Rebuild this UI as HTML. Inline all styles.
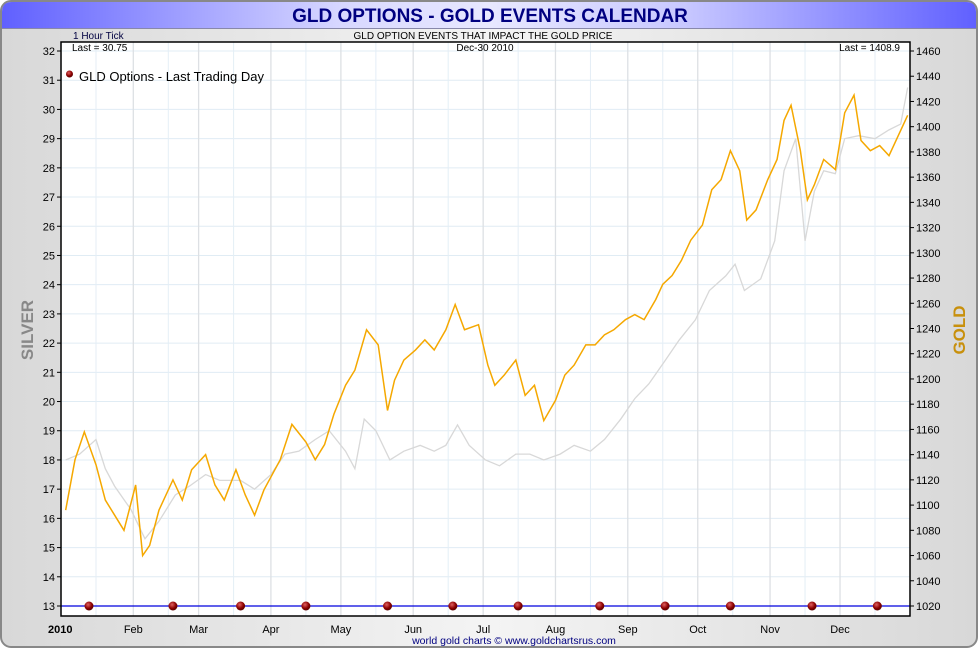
<!DOCTYPE html>
<html><head><meta charset="utf-8"><style>
body{margin:0;background:#fff;font-family:"Liberation Sans",sans-serif}
svg text{font-family:"Liberation Sans",sans-serif}
</style></head><body>
<svg id="chart" width="980" height="650" viewBox="0 0 980 650" xmlns="http://www.w3.org/2000/svg">
<defs>
<linearGradient id="tg" x1="0" x2="1"><stop offset="0" stop-color="#6060ff"/><stop offset="0.35" stop-color="#d8d8ff"/><stop offset="0.5" stop-color="#e8e8ff"/><stop offset="0.7" stop-color="#c8c8ff"/><stop offset="1" stop-color="#6060ff"/></linearGradient>
<linearGradient id="bg" x1="0" x2="1"><stop offset="0" stop-color="#d8d8d8"/><stop offset="0.5" stop-color="#f4f4f4"/><stop offset="1" stop-color="#d8d8d8"/></linearGradient>
<radialGradient id="dot" cx="0.4" cy="0.35" r="0.7"><stop offset="0" stop-color="#e06060"/><stop offset="0.6" stop-color="#8b0000"/><stop offset="1" stop-color="#500000"/></radialGradient>
</defs>
<rect x="1" y="1" width="976" height="646" rx="10" fill="url(#bg)" stroke="#888" stroke-width="2"/>
<path d="M2,28 L2,12 Q2,2 12,2 L966,2 Q976,2 976,12 L976,28 Z" fill="url(#tg)"/>
<line x1="2" y1="28.5" x2="976" y2="28.5" stroke="#8888aa"/>
<text x="490" y="22" text-anchor="middle" font-size="19" font-weight="bold" fill="#000080">GLD OPTIONS - GOLD EVENTS CALENDAR</text>
<text x="73" y="39" font-size="10" fill="#000040">1 Hour Tick</text>
<text x="483" y="39" text-anchor="middle" font-size="10" fill="#000">GLD OPTION EVENTS THAT IMPACT THE GOLD PRICE</text>
<rect x="61" y="42" width="849" height="574" fill="#fff"/>
<g id="grid"></g>
<g id="series"></g>
<rect x="61" y="42" width="849" height="574" fill="none" stroke="#000" stroke-width="1.5"/>
<text x="72" y="51" font-size="10" fill="#000">Last = 30.75</text>
<text x="485" y="51" text-anchor="middle" font-size="10" fill="#000">Dec-30  2010</text>
<text x="900" y="51" text-anchor="end" font-size="10" fill="#000">Last = 1408.9</text>
<circle cx="69.5" cy="74" r="3.5" fill="url(#dot)"/>
<text x="79" y="81" font-size="13" fill="#000">GLD Options - Last Trading Day</text>
<g id="axes"></g>
<text transform="translate(33,330) rotate(-90)" text-anchor="middle" font-size="17" font-weight="bold" fill="#888">SILVER</text>
<text transform="translate(965,330) rotate(-90)" text-anchor="middle" font-size="17" font-weight="bold" fill="#c8900c">GOLD</text>
<text x="514" y="644" text-anchor="middle" font-size="10.5" fill="#000080">world gold charts © www.goldchartsrus.com</text>
</svg>
<script>
const monthLabels=["2010","Feb","Mar","Apr","May","Jun","Jul","Aug","Sep","Oct","Nov","Dec"];
const monthStartDays=[0,31,59,90,120,151,181,212,243,273,304,334];
const silverTicks=[13,14,15,16,17,18,19,20,21,22,23,24,25,26,27,28,29,30,31,32];
const goldTicks=[1020,1040,1060,1080,1100,1120,1140,1160,1180,1200,1220,1240,1260,1280,1300,1320,1340,1360,1380,1400,1420,1440,1460];
const eventDays=[12,48,77,105,140,168,196,231,259,287,322,350];
const goldDays=[2,6,10,15,19,23,27,32,35,38,42,48,52,56,62,66,70,75,79,83,87,94,99,105,109,113,117,122,126,131,136,140,143,147,152,156,160,165,169,173,179,183,186,190,195,199,203,207,212,216,220,225,229,233,237,242,246,250,255,258,262,266,270,275,279,283,287,291,294,298,303,307,310,313,317,320,323,327,332,336,340,343,347,351,355,360,363];
const goldValues=[1096,1136,1158,1132,1104,1092,1080,1116,1060,1068,1096,1120,1104,1128,1140,1116,1104,1128,1108,1092,1112,1136,1164,1150,1136,1148,1172,1195,1207,1239,1227,1175,1199,1215,1223,1231,1223,1239,1259,1239,1243,1211,1195,1203,1215,1187,1195,1167,1183,1203,1211,1227,1227,1235,1239,1247,1251,1247,1263,1275,1282,1294,1310,1322,1350,1358,1381,1365,1326,1334,1358,1374,1405,1417,1381,1342,1354,1374,1366,1411,1425,1389,1381,1385,1377,1397,1409];
const silverDays=[2,8,15,19,23,30,36,42,49,55,62,68,77,83,90,96,102,109,115,122,126,130,135,141,147,154,160,165,170,175,182,188,195,201,207,214,220,227,233,240,246,252,259,265,272,278,285,289,293,300,306,310,315,319,323,327,332,336,342,349,355,360,363];
const silverValues=[18.0,18.2,18.7,17.7,17.1,16.3,15.3,15.9,16.8,17.1,17.5,17.3,17.3,17.0,17.5,18.2,18.3,18.7,19.0,18.3,17.7,19.4,19.0,18.0,18.3,18.5,18.3,18.5,19.2,18.5,18.0,17.8,18.2,18.2,18.0,18.2,18.5,18.3,18.7,19.4,20.1,20.6,21.4,22.1,22.8,23.8,24.3,24.7,23.8,24.2,25.5,27.9,29.0,25.5,27.2,27.9,27.8,29.0,29.1,29.0,29.3,29.5,30.75];

const NS="http://www.w3.org/2000/svg";
const X0=61,X1=910,Y0=42,Y1=616;
const xDay=d=>X0+d*(X1-X0)/364;
const ySilver=v=>606-(v-13)*(555/19);
const yGold=v=>606-(v-1020)*(555/440);
function mk(tag,attrs,parent){const e=document.createElementNS(NS,tag);for(const k in attrs)e.setAttribute(k,attrs[k]);parent.appendChild(e);return e;}
const grid=document.getElementById('grid'),axes=document.getElementById('axes'),series=document.getElementById('series');
// grid
silverTicks.forEach(v=>{const l=mk('line',{x1:X0,x2:X1,y1:ySilver(v),y2:ySilver(v),stroke:'#e0ecf4','stroke-width':1},grid);

});
monthStartDays.forEach((d,i)=>{
 const l=mk('line',{x1:xDay(d),x2:xDay(d),y1:Y0,y2:Y1,stroke:'#dde0e4','stroke-width':1.3},grid);
 
 
 const m=mk('line',{x1:xDay(d+15),x2:xDay(d+15),y1:Y0,y2:Y1,stroke:'#e4eef6','stroke-width':1},grid);
 
 
 const t=mk('text',{x:xDay(d)+(i===0?-13:0),y:633,'text-anchor':i===0?'start':'middle','font-size':11,'font-weight':i===0?'bold':'normal',fill:'#000'},axes);
 t.textContent=monthLabels[i];
 
 
});
silverTicks.forEach(v=>{const y=ySilver(v);mk('line',{x1:X0-4,x2:X0,y1:y,y2:y,stroke:'#000'},axes);
 const t=mk('text',{x:X0-6,y:y+4,'text-anchor':'end','font-size':11,fill:'#000'},axes);t.textContent=v;
 
 });
goldTicks.forEach(v=>{const y=yGold(v);mk('line',{x1:X1,x2:X1+4,y1:y,y2:y,stroke:'#000'},axes);
 const t=mk('text',{x:X1+6,y:y+4,'font-size':11,fill:'#000'},axes);t.textContent=v;
 
 });
// series
const sp=mk('polyline',{points:silverDays.map((d,i)=>xDay(d)+','+ySilver(silverValues[i])).join(' '),fill:'none',stroke:'#d8d8d8','stroke-width':1.3},series);


const gp=mk('polyline',{points:goldDays.map((d,i)=>xDay(d)+','+yGold(goldValues[i])).join(' '),fill:'none',stroke:'#f5a800','stroke-width':1.5},series);


const bl=mk('line',{x1:X0,x2:X1,y1:ySilver(13),y2:ySilver(13),stroke:'#0000dd','stroke-width':1.3},series);


eventDays.forEach(d=>{const c=mk('circle',{cx:xDay(d),cy:ySilver(13),r:4.5,fill:'url(#dot)'},series);
 
 });
</script>
</body></html>
